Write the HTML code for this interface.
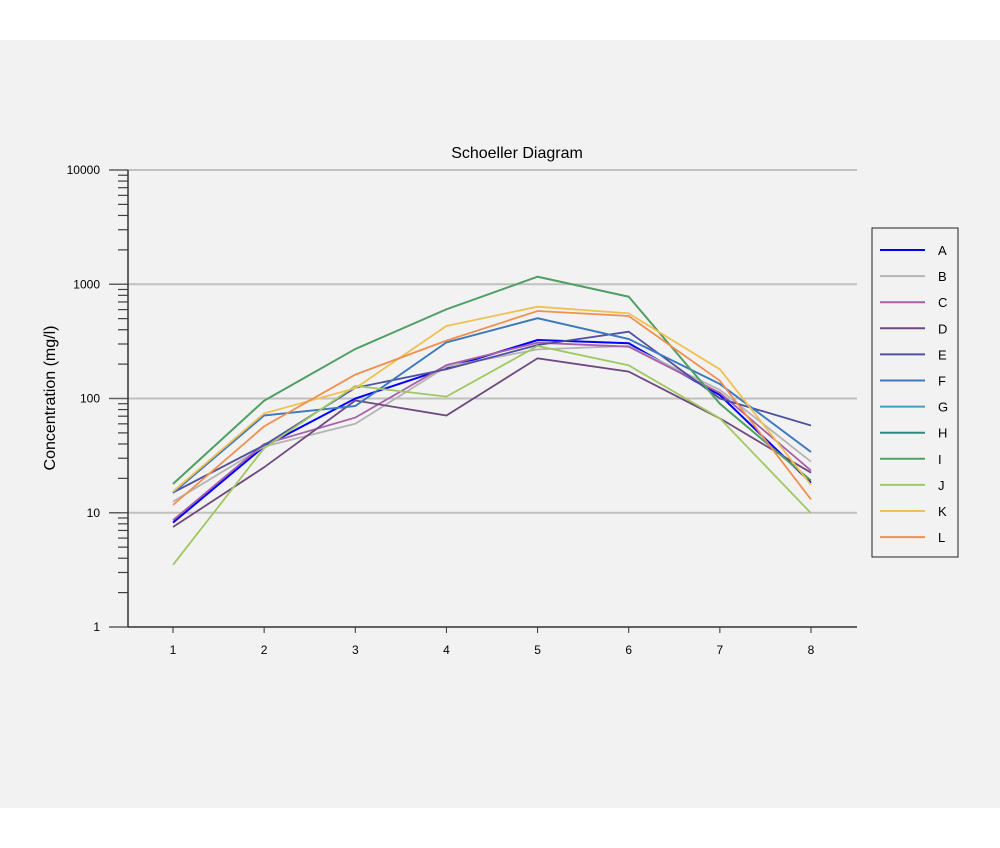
<!DOCTYPE html>
<html><head><meta charset="utf-8"><style>
html,body{margin:0;padding:0;background:#fff;}
svg{display:block;font-family:"Liberation Sans",sans-serif;}
</style></head><body>
<svg width="1000" height="848" xmlns="http://www.w3.org/2000/svg">
<rect x="0" y="40" width="1000" height="768" fill="#f2f2f2"/>
<text x="517" y="158" text-anchor="middle" font-size="16" fill="#000">Schoeller Diagram</text>
<text transform="translate(55,398) rotate(-90)" text-anchor="middle" font-size="16" fill="#000">Concentration (mg/l)</text>
<g id="grid"></g>
<g id="axes"></g>
<g id="series"></g>
<g id="legend"></g>
</svg>
<script>
const categories = [1,2,3,4,5,6,7,8];
const yTickValues = [1,10,100,1000,10000];
const yTickLabels = ["1","10","100","1000","10000"];
const seriesNames = ["A","B","C","D","E","F","G","H","I","J","K","L"];
const sA = [8.2,38,100,184,325,304,107,18.3];
const sB = [12.5,38,60,190,269,288,119,28];
const sC = [8.6,40,68,196,308,284,112,23.4];
const sD = [7.5,25,96,71,225,172,67,22.4];
const sE = [15,39,124,180,294,384,100,58];
const sF = [14.9,71,86,310,504,332,134,34];
const sG = [14.9,71,86,310,504,332,134,34];
const sH = [17.9,95.7,271,604,1164,778,90,19.1];
const sI = [17.9,95.7,271,604,1164,778,90,19.1];
const sJ = [3.5,36.7,129,104,288,195,67,9.9];
const sK = [15.3,74,123,431,636,556,180,17.5];
const sL = [11.7,57,162,321,583,527,143,13.1];
const seriesValues = [sA,sB,sC,sD,sE,sF,sG,sH,sI,sJ,sK,sL];
const colors = ["#0000ff","#b4b4b4","#a860a8","#704880","#5050a0","#4078c0","#40a0c0","#308880","#50a060","#a0c860","#f0c050","#f09050"];
const drawOrder = [6,7,0,1,2,3,4,5,8,9,10,11];

const NS="http://www.w3.org/2000/svg";
const X0=128,X1=857,Y0=627,Y1=170;
function xPos(i){return 173+(811-173)*i/(categories.length-1);}
function yPos(v){return Y0-(Math.log10(v)-0)/(4-0)*(Y0-Y1);}
function mk(tag,attrs,parent){const e=document.createElementNS(NS,tag);for(const k in attrs)e.setAttribute(k,attrs[k]);parent.appendChild(e);return e;}
const grid=document.getElementById('grid'),axes=document.getElementById('axes'),ser=document.getElementById('series'),leg=document.getElementById('legend');
yTickValues.forEach((v,i)=>{
  const y=yPos(v);
  if(v>1){const g=mk('line',{x1:X0,x2:X1,y1:y,y2:y,stroke:'#c0c0c0','stroke-width':2},grid);
  
  }
  const t=mk('line',{x1:109,x2:X0,y1:y,y2:y,stroke:'#606060','stroke-width':1.5},axes);
  
  
  const l=mk('text',{x:100,y:y+4,'text-anchor':'end','font-size':12,fill:'#000'},axes);
  l.textContent=yTickLabels[i];
  
  
  if(i<yTickValues.length-1){for(let m=2;m<=9;m++){const ym=yPos(v*m);
    const mt=mk('line',{x1:118,x2:X0,y1:ym,y2:ym,stroke:'#404040','stroke-width':1.2},axes);
    
    }}
});
const ya=mk('line',{x1:X0,x2:X0,y1:Y1,y2:Y0,stroke:'#333','stroke-width':1.5},axes);


const xa=mk('line',{x1:X0,x2:X1,y1:Y0,y2:Y0,stroke:'#333','stroke-width':1.5},axes);


categories.forEach((c,i)=>{
  const x=xPos(i);
  const t=mk('line',{x1:x,x2:x,y1:Y0,y2:Y0+6,stroke:'#333','stroke-width':1},axes);
  
  
  const l=mk('text',{x:x,y:654,'text-anchor':'middle','font-size':12,fill:'#000'},axes);
  l.textContent=String(c);
  
  
});
drawOrder.forEach(s=>{
  const vals=seriesValues[s];
  const pts=vals.map((v,i)=>xPos(i).toFixed(1)+','+yPos(v).toFixed(1)).join(' ');
  const p=mk('polyline',{points:pts,fill:'none',stroke:colors[s],'stroke-width':s===0?2:1.8},ser);
  
  
});
const box=mk('rect',{x:872,y:228,width:86,height:329,fill:'#f2f2f2',stroke:'#222','stroke-width':1},leg);


seriesNames.forEach((n,i)=>{
  const y=250+i*26.1;
  const g=mk('g',{},leg);
  
  
  mk('line',{x1:880,x2:925,y1:y,y2:y,stroke:colors[i],'stroke-width':2},g);
  const t=mk('text',{x:938,y:y+5,'font-size':13,fill:'#000'},g);
  t.textContent=n;
});
</script>
</body></html>
